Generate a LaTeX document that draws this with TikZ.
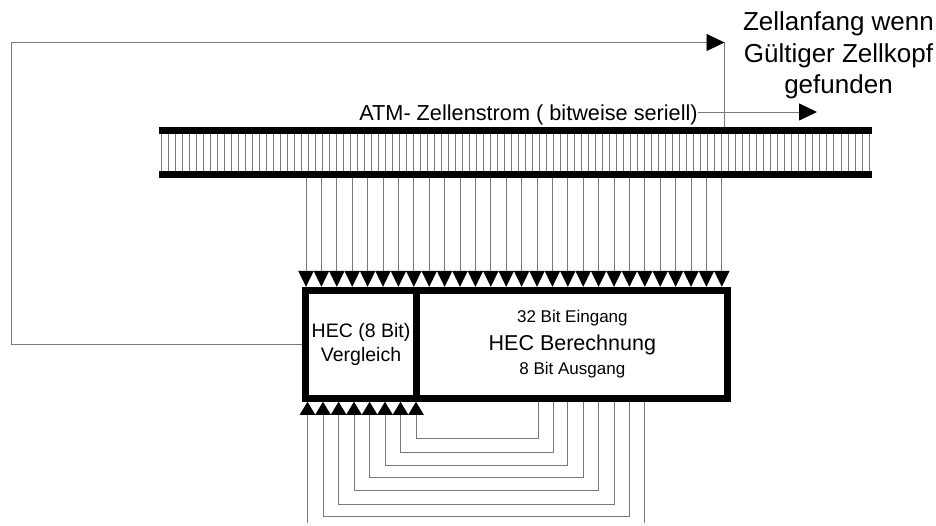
\documentclass[tikz,border=0pt]{standalone}
\usepackage{fontspec}
\setmainfont{Liberation Sans}
\usepackage{tikz}
\usetikzlibrary{arrows.meta,positioning}
\definecolor{Wire}{HTML}{787878}
\newcommand{\fnt}[1]{\fontsize{#1}{#1}\selectfont}

\begin{document}
\begin{tikzpicture}[x=1pt,y=-1pt,
bus/.style={fill=black,minimum width=713pt,minimum height=7pt,inner sep=0pt,outer sep=0pt},
unit/.style={draw=black,line width=7pt,minimum height=108pt,inner sep=0pt,align=center},
wire/.style={Wire,line width=.8pt},
inarr/.style={wire,-{Triangle[length=16pt,width=15.4pt,color=black]}},
fbarr/.style={wire,{Triangle[length=13pt,width=15.5pt,color=black]}-},
bigarr/.style={wire,-{Triangle[length=18pt,width=17pt,color=black]}}]
\useasboundingbox (0,0) rectangle (936,526);
% bit stream
\node[bus] (bustop) at (515.5,130.5) {};
\node[bus,below=37pt of bustop] (busbot) {};
\foreach \i in {0,...,101}{\draw[wire] (bustop.south -| {161.5+7.004*\i},0) -- (busbot.north -| {161.5+7.004*\i},0);}
\node[font=\fnt{21.7},inner xsep=0pt,above=-2pt of bustop,xshift=13pt] (stream) {ATM- Zellenstrom ( bitweise seriell)};
\coordinate (streamend) at (817,112);
\draw[bigarr] (stream.east |- streamend) -- (streamend);
\node[align=center,font=\fnt{26},inner sep=0pt] (start) at (838.5,55.5) {Zellanfang wenn\\[6pt]G\"ultiger Zellkopf\\[5pt]gefunden};
% units
\node[unit,minimum width=111.5pt,font=\fnt{19.5}] (cmp) at (361,344.3) {HEC (8 Bit)\\[4pt]Vergleich};
\node[unit,minimum width=311.2pt,right=-7pt of cmp] (calc) {{\fnt{17}32 Bit Eingang}\\[8pt]{\fnt{21.5}HEC Berechnung}\\[6pt]{\fnt{17}8 Bit Ausgang}};
% parallel inputs
\foreach \i in {0,...,27}{\draw[inarr] (busbot.south -| {306+15.4*\i},0) -- (cmp.north -| {306+15.4*\i},0);}
% feedback of the check result
\coordinate (mark) at (724.5,42.5);
\draw[wire] (bustop.north -| mark) -- (mark);
\draw[bigarr] (cmp.west) -| (11.5,42.5) -- (mark);
% 8 bit output to compare input
\foreach \a/\b/\y in {416/538.3/438.3,400.5/553/452.3,385/567.7/465.3,369.6/583.3/477,354/598.7/490.7,338.6/614.7/504.7,323/629.3/516.3}{
\draw[fbarr] (cmp.south -| \a,0) -- (\a,\y) -- (\b,\y) -- (calc.south -| \b,0);}
\coordinate (outleft) at (307.5,523);
\coordinate (outright) at (644.3,523);
\draw[fbarr] (cmp.south -| outleft) -- (outleft);
\draw[wire] (calc.south -| outright) -- (outright);
\end{tikzpicture}
\end{document}
